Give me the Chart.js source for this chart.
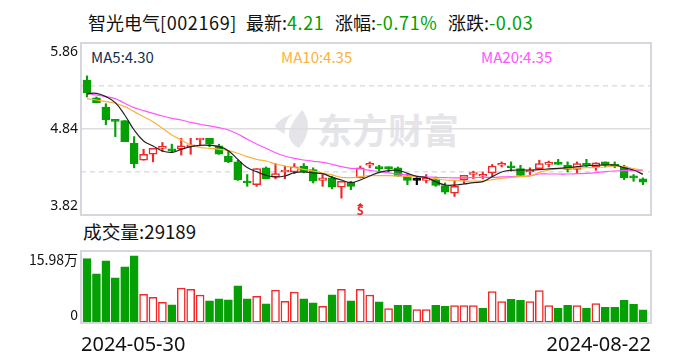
<!DOCTYPE html>
<html>
<head>
<meta charset="utf-8">
<script src="https://cdn.jsdelivr.net/npm/chart.js@4.4.1/dist/chart.umd.min.js"></script>
<style>
  html, body { margin: 0; padding: 0; background: #fff; }
  body { position: relative; width: 688px; height: 360px; overflow: hidden;
         font-family: "Noto Sans CJK SC", "Noto Sans", sans-serif; color: #111; }
  .t { position: absolute; white-space: nowrap; line-height: 1; }
  .n { letter-spacing: 0.6px; }
  canvas { position: absolute; left: 0; }
  #mark { position: absolute; left: 275px; top: 110px; color: #e5e5e9; white-space: nowrap; }
  #mark span { font-size: 35px; font-weight: 700; line-height: 38px; position: absolute; left: 42px; top: 0; letter-spacing: 0.6px; }
  #mark svg { position: absolute; left: 0; top: 0; }
</style>
</head>
<body>
<div class="t" style="left:88px;top:13px;font-size:18px">智光电气<span class="n">[002169]</span></div>
<div class="t" style="left:246px;top:13px;font-size:18px">最新:<span class="n" style="color:#00a000">4.21</span></div>
<div class="t" style="left:335px;top:13px;font-size:18px">涨幅:<span class="n" style="color:#00a000">-0.71%</span></div>
<div class="t" style="left:448px;top:13px;font-size:18px">涨跌:<span class="n" style="color:#00a000">-0.03</span></div>
<div class="t" style="left:91px;top:49px;font-size:15px;color:#12304f">MA5:4.30</div>
<div class="t" style="left:281px;top:49px;font-size:15px;color:#fbb23c">MA10:4.35</div>
<div class="t" style="left:481px;top:49px;font-size:15px;color:#ff55ff">MA20:4.35</div>
<div class="t" style="left:83px;top:222px;font-size:18.7px">成交量:29189</div>
<div id="mark">
  <svg width="40" height="40" viewBox="0 0 40 40"><path fill="#e5e5e9" d="M27 0 C35 9 36 24 24 38 C19 36 15 31 14 26 C13 18 20 9 27 0 Z M18 4 C12 8 9 15 10 24 C5 22 2 19 0 16 C4 10 11 6 18 4 Z"/></svg>
  <span>东方财富</span>
</div>
<canvas id="priceChart" width="688" height="222" style="top:0"></canvas>
<canvas id="volChart" width="688" height="120" style="top:240px"></canvas>
<script>
// picture values, read per candle left to right
const DATES = ["2024-05-30", "2024-08-22"];
const OPEN = [5.42,5.21,5.10,4.94,4.94,4.67,4.47,4.54,4.61,4.59,4.60,4.63,4.71,4.73,4.64,4.52,4.45,4.22,4.18,4.38,
  4.27,4.33,4.33,4.40,4.36,4.23,4.26,4.15,4.21,4.26,4.41,4.38,4.38,4.38,4.28,4.23,4.23,4.24,4.17,4.08,
  4.24,4.30,4.28,4.32,4.41,4.39,4.37,4.33,4.37,4.42,4.44,4.41,4.36,4.43,4.39,4.45,4.41,4.39,4.27,4.25];
const CLOSE = [5.27,5.15,4.95,4.93,4.69,4.43,4.54,4.61,4.62,4.58,4.64,4.65,4.73,4.66,4.54,4.45,4.24,4.20,4.37,4.25,
  4.31,4.34,4.39,4.33,4.22,4.26,4.15,4.22,4.16,4.38,4.42,4.37,4.37,4.28,4.23,4.23,4.25,4.17,4.09,4.16,
  4.29,4.32,4.29,4.40,4.42,4.38,4.29,4.34,4.43,4.44,4.42,4.36,4.43,4.41,4.44,4.41,4.40,4.26,4.26,4.21];
const HIGH = [5.47,5.22,5.14,4.94,4.94,4.75,4.60,4.61,4.68,4.66,4.73,4.73,4.73,4.73,4.66,4.58,4.47,4.30,4.37,4.39,
  4.43,4.40,4.43,4.43,4.38,4.30,4.28,4.22,4.22,4.40,4.45,4.41,4.39,4.39,4.30,4.27,4.30,4.27,4.20,4.22,
  4.29,4.34,4.33,4.42,4.45,4.45,4.41,4.38,4.47,4.46,4.48,4.45,4.45,4.48,4.44,4.45,4.45,4.41,4.30,4.26];
const LOW = [5.22,5.15,4.89,4.75,4.69,4.38,4.47,4.45,4.57,4.56,4.53,4.54,4.65,4.63,4.54,4.44,4.23,4.16,4.16,4.25,
  4.25,4.25,4.31,4.32,4.20,4.16,4.13,4.02,4.12,4.26,4.38,4.32,4.33,4.28,4.18,4.18,4.20,4.16,4.07,4.04,
  4.19,4.25,4.25,4.28,4.39,4.34,4.29,4.30,4.37,4.39,4.42,4.33,4.31,4.39,4.35,4.39,4.38,4.24,4.22,4.18];
const MA5 = [5.259,5.263,5.224,5.152,5.006,4.828,4.698,4.639,4.579,4.563,4.599,4.631,4.646,4.646,4.631,4.583,4.480,4.382,4.334,4.291,
  4.271,4.283,4.322,4.330,4.318,4.310,4.267,4.235,4.204,4.235,4.283,4.326,4.346,4.350,4.314,4.279,4.263,4.216,4.176,4.175,
  4.188,4.204,4.216,4.275,4.330,4.350,4.354,4.354,4.358,4.366,4.374,4.381,4.393,4.405,4.409,4.413,4.413,4.381,4.354,4.302];
const MA10 = [5.200,5.184,5.164,5.145,5.105,5.046,4.986,4.927,4.848,4.769,4.710,4.650,4.623,4.611,4.599,4.583,4.552,4.512,4.480,4.460,
  4.425,4.401,4.382,4.362,4.342,4.318,4.295,4.267,4.263,4.275,4.287,4.287,4.287,4.283,4.279,4.271,4.263,4.251,4.235,4.230,
  4.223,4.223,4.223,4.239,4.255,4.267,4.275,4.283,4.326,4.354,4.366,4.374,4.378,4.381,4.385,4.389,4.401,4.393,4.370,4.350];
const MA20 = [5.259,5.243,5.224,5.200,5.145,5.093,5.058,5.026,4.994,4.967,4.947,4.919,4.896,4.876,4.856,4.828,4.781,4.718,4.662,4.611,
  4.559,4.520,4.492,4.472,4.457,4.445,4.421,4.393,4.374,4.366,4.350,4.334,4.318,4.306,4.295,4.279,4.271,4.267,4.263,4.260,
  4.263,4.263,4.267,4.267,4.271,4.275,4.279,4.283,4.306,4.306,4.306,4.306,4.310,4.314,4.322,4.334,4.342,4.346,4.346,4.350];
const VOLUME = [14.27,10.92,13.82,10.03,12.48,14.93,6.39,5.72,4.61,4.01,7.73,7.50,6.17,4.90,5.35,5.13,8.25,5.35,5.94,4.24,
  7.28,4.83,6.84,5.35,4.46,3.72,6.24,7.50,4.90,7.50,6.17,4.68,3.20,3.94,3.94,2.97,2.97,3.94,3.72,3.86,
  3.86,3.86,3.27,6.98,4.76,5.28,5.05,4.76,7.21,3.86,3.27,3.94,3.86,3.27,4.31,3.49,3.49,5.05,4.16,2.92];
// 1 = red hollow volume bar, 0 = green
const VOL_UP = [0,0,0,0,0,0,1,1,1,0,1,1,1,0,0,0,0,0,1,0,
  1,1,1,0,0,1,0,1,0,1,1,0,1,0,0,1,1,0,0,1,
  1,1,0,1,1,0,0,1,1,1,0,0,1,0,1,0,0,0,0,0];
const PRICE_TICKS = [5.86, 5.35, 4.84, 4.33, 3.82];
const VOL_MAX = 15.98;
const SIGNAL_INDEX = 29;

const RED = "#f02828";
const GREEN = "#04a004";
const BORDER = "#d6d6de";
const GRID = "#dedede";
const X_MIN = -0.64;
const X_MAX = 59.85;

function candleColor(i) {
  if (CLOSE[i] > OPEN[i]) return RED;
  if (CLOSE[i] < OPEN[i]) return GREEN;
  return "#000";
}

// end labels are allowed to sit right on the plot edge
function noAxisPadding(s) {
  s.paddingTop = 0;
  s.paddingBottom = 0;
  s.paddingLeft = 0;
  s.paddingRight = 0;
}

const frame = {
  id: "frame",
  afterDraw(chart) {
    const a = chart.chartArea, ctx = chart.ctx;
    ctx.save();
    ctx.strokeStyle = BORDER;
    ctx.lineWidth = 2;
    ctx.strokeRect(a.left, a.top, a.right - a.left, a.bottom - a.top);
    ctx.restore();
  }
};

const signal = {
  id: "signal",
  afterDraw(chart) {
    const ctx = chart.ctx;
    const x = chart.scales.x.getPixelForValue(SIGNAL_INDEX);
    ctx.save();
    ctx.fillStyle = RED;
    ctx.textAlign = "center";
    ctx.textBaseline = "alphabetic";
    ctx.font = "bold 12px 'Noto Sans'";
    ctx.fillText("S", x, 215);
    ctx.beginPath();
    ctx.moveTo(x, 203);
    ctx.lineTo(x + 3.5, 206);
    ctx.lineTo(x - 3.5, 206);
    ctx.fill();
    ctx.restore();
  }
};

function xAxis(extra) {
  return Object.assign({
    type: "linear",
    offset: false,
    min: X_MIN,
    max: X_MAX,
    grid: { display: false },
    border: { display: false }
  }, extra);
}

new Chart(document.getElementById("priceChart"), {
  type: "bar",
  data: {
    datasets: [
      {
        type: "line", label: "MA5", order: 1,
        data: MA5.map((v, i) => ({ x: i, y: v })),
        borderColor: "#222", borderWidth: 1.2, pointRadius: 0, tension: 0.4
      },
      {
        type: "line", label: "MA10", order: 2,
        data: MA10.map((v, i) => ({ x: i, y: v })),
        borderColor: "#fbb23c", borderWidth: 1.2, pointRadius: 0, tension: 0.4
      },
      {
        type: "line", label: "MA20", order: 3,
        data: MA20.map((v, i) => ({ x: i, y: v })),
        borderColor: "#ff55ff", borderWidth: 1.2, pointRadius: 0, tension: 0.4
      },
      {
        label: "body", order: 4,
        data: OPEN.map((v, i) => ({ x: i, y: [v, CLOSE[i]] })),
        barThickness: 8, grouped: false, minBarLength: 2,
        backgroundColor: c => CLOSE[c.dataIndex] > OPEN[c.dataIndex] ? "#fff" : candleColor(c.dataIndex),
        borderColor: c => candleColor(c.dataIndex),
        borderWidth: 1.5, borderSkipped: false
      },
      {
        label: "wick", order: 5,
        data: HIGH.map((v, i) => ({ x: i, y: [LOW[i], v] })),
        barThickness: 1.5, grouped: false,
        backgroundColor: c => candleColor(c.dataIndex),
        borderWidth: 0
      }
    ]
  },
  options: {
    responsive: false,
    animation: false,
    events: [],
    layout: { padding: { top: 43, right: 37, bottom: 7, left: 0 } },
    plugins: { legend: { display: false }, tooltip: { enabled: false } },
    scales: {
      x: xAxis({ display: false }),
      y: {
        min: 3.82,
        max: 5.86,
        afterFit: s => { s.width = 81; noAxisPadding(s); },
        afterBuildTicks: s => { s.ticks = PRICE_TICKS.map(v => ({ value: v })); },
        border: { display: false, dash: c => c.index === 1 || c.index === 3 ? [5, 4] : [] },
        grid: { color: c => (c.index === 0 || c.index === 4) ? "transparent" : GRID, drawTicks: false, lineWidth: 1.5 },
        ticks: {
          color: "#111",
          font: { size: 14, family: "'Noto Sans'", lineHeight: 1.25 },
          padding: 3,
          // blank lines push the end labels inside the plot
          callback: (v, i) => i === 0 ? ["", "5.86"] : i === 2 ? "4.84" : i === 4 ? ["3.82", ""] : ""
        }
      }
    }
  },
  plugins: [frame, signal]
});

new Chart(document.getElementById("volChart"), {
  type: "bar",
  data: {
    datasets: [{
      label: "成交量",
      data: VOLUME.map((v, i) => ({ x: i, y: v })),
      barThickness: 8,
      backgroundColor: c => VOL_UP[c.dataIndex] ? "#fff" : GREEN,
      borderColor: c => VOL_UP[c.dataIndex] ? RED : GREEN,
      borderWidth: 1.5,
      borderSkipped: false
    }]
  },
  options: {
    responsive: false,
    animation: false,
    events: [],
    layout: { padding: { top: 11, right: 37, bottom: 0, left: 0 } },
    plugins: { legend: { display: false }, tooltip: { enabled: false } },
    scales: {
      x: xAxis({
        afterFit: s => { s.height = 37; noAxisPadding(s); },
        afterBuildTicks: s => { s.ticks = [{ value: X_MIN }, { value: X_MAX }]; },
        ticks: {
          autoSkip: false,
          maxRotation: 0,
          align: "inner",
          color: "#111",
          padding: 2,
          font: { size: 20, family: "'Noto Sans'" },
          callback: (v, i) => DATES[i]
        }
      }),
      y: {
        min: 0,
        max: VOL_MAX,
        afterFit: s => { s.width = 81; noAxisPadding(s); },
        afterBuildTicks: s => { s.ticks = [{ value: 0 }, { value: VOL_MAX / 2 }, { value: VOL_MAX }]; },
        border: { display: false, dash: [5, 4] },
        grid: { color: c => c.index === 1 ? GRID : "transparent", drawTicks: false, lineWidth: 1.5 },
        ticks: {
          color: "#111",
          padding: 3,
          font: { size: 14, family: "'Noto Sans CJK SC'", lineHeight: 1.2 },
          callback: (v, i) => i === 0 ? ["0", ""] : i === 2 ? ["", "15.98万"] : ""
        }
      }
    }
  },
  plugins: [frame]
});
</script>
</body>
</html>
